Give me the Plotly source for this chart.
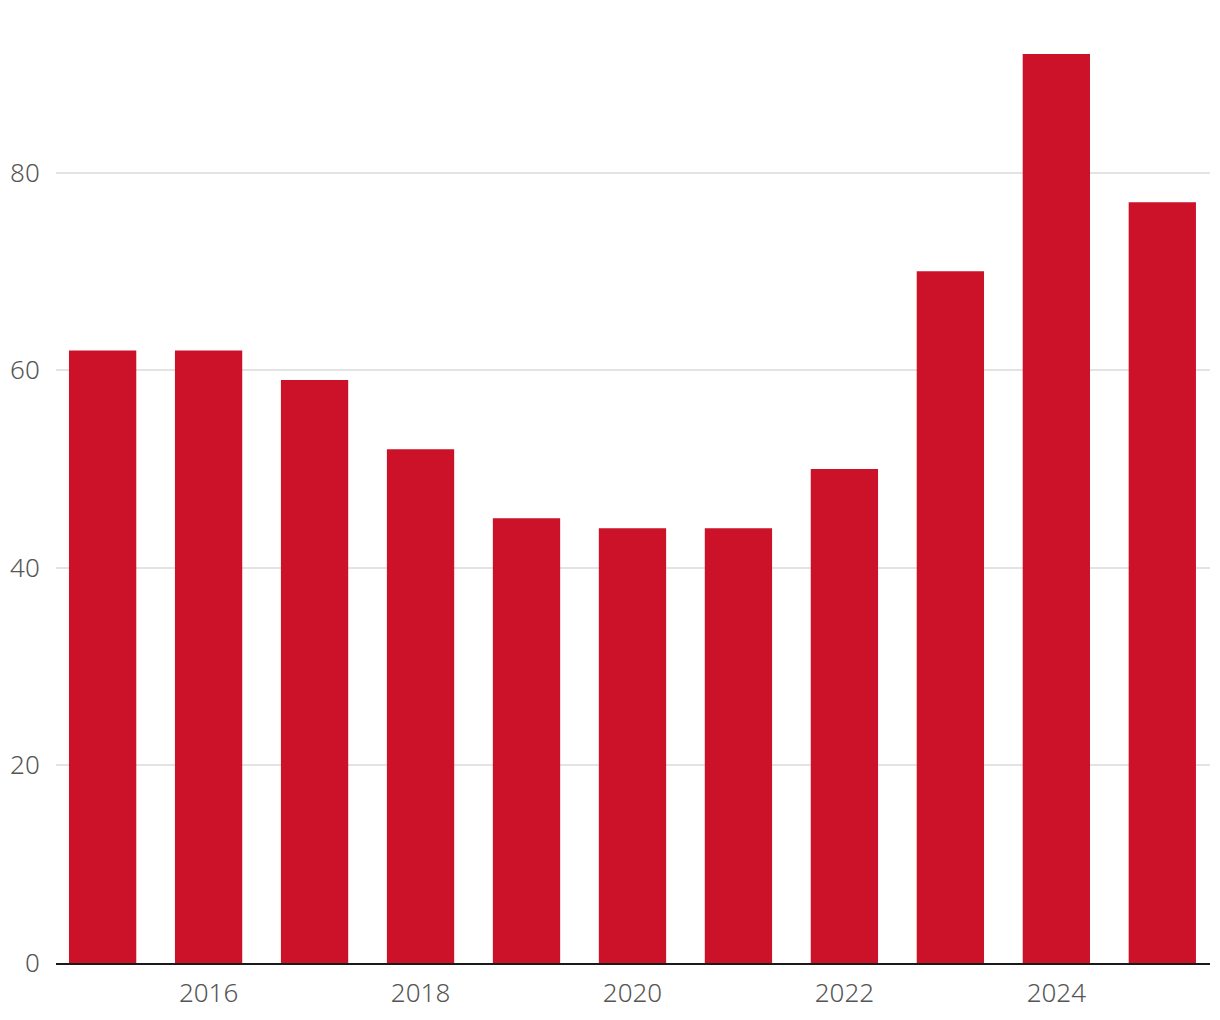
import plotly.graph_objects as go

years = [2015, 2016, 2017, 2018, 2019, 2020, 2021, 2022, 2023, 2024, 2025]
values = [62, 62, 59, 52, 45, 44, 44, 50, 70, 92, 77]
x_ticks = [2016, 2018, 2020, 2022, 2024]
y_ticks = [0, 20, 40, 60, 80]

fig = go.Figure(go.Bar(x=years, y=values, marker=dict(color="#CB1228", line=dict(width=0)), width=0.635))

fig.update_layout(
    width=1204, height=1004,
    margin=dict(l=47, r=2, t=2, b=46),
    paper_bgcolor="white", plot_bgcolor="white",
    showlegend=False,
    font=dict(family="Noto Sans", size=26, color="#555555", weight=300),
)
fig.update_xaxes(
    range=[2014.56, 2025.45], tickvals=x_ticks, ticktext=[str(v) for v in x_ticks],
    showgrid=False, showline=True, linecolor="#1a1a1a", linewidth=2,
    ticks="outside", ticklen=6, tickcolor="rgba(0,0,0,0)", zeroline=False,
)
fig.update_yaxes(
    range=[0, 96.45], tickvals=y_ticks, showgrid=True, gridcolor="#e3e3e3", gridwidth=1.5,
    zeroline=False, ticks="outside", ticklen=10, tickcolor="rgba(0,0,0,0)",
)
fig.write_html("out.html")
